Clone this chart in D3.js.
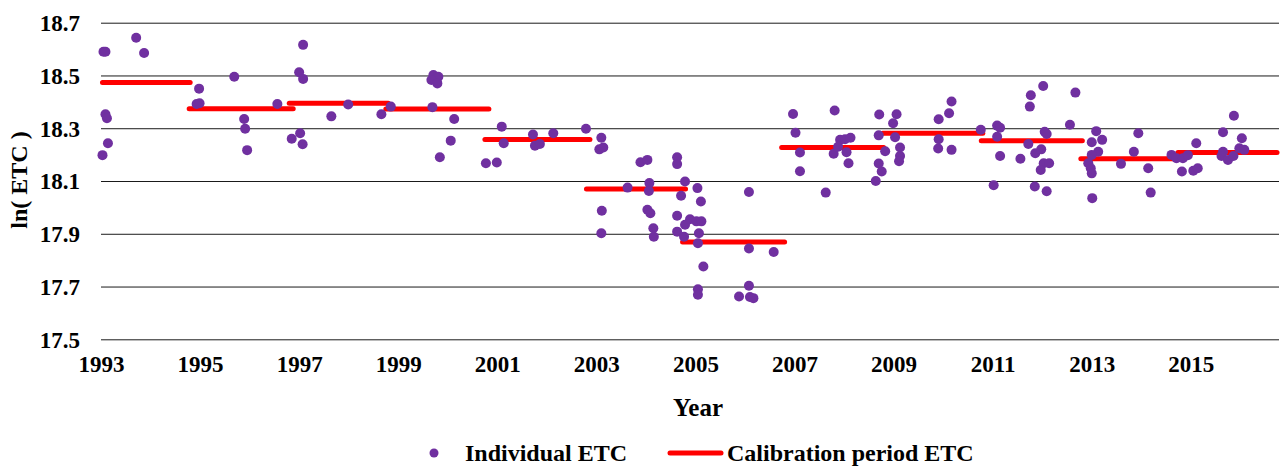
<!DOCTYPE html>
<html lang="en">
<head>
<meta charset="UTF-8">
<title>ln(ETC) by year</title>
<script src="https://d3js.org/d3.v7.min.js"></script>
<style>
  body { margin: 0; background: #fff; }
  svg text { font-family: "Liberation Serif", "Times New Roman", serif; font-weight: bold; fill: #000; }
  .axis path.domain { display: none; }
</style>
</head>
<body>
<div id="chart"></div>
<script>

// individual ETC estimates (decimal year, ln ETC)
var etcYear = [
  1993.05, 1993.09, 1993.71, 1993.87, 1993.09, 1993.12, 1993.14, 1993.03,
  1994.98, 1994.93, 1994.99, 1995.69, 1995.89, 1995.91, 1995.95, 1996.56,
  1996.85, 1997.02, 1997.07, 1997.00, 1997.08, 1997.08, 1997.65, 1997.99,
  1998.66, 1998.85, 1999.71, 1999.81, 1999.67, 1999.79, 1999.69, 2000.13,
  2000.06, 1999.84, 2000.77, 2000.99, 2001.09, 2001.13, 2001.72, 2001.76,
  2001.86, 2002.13, 2002.79, 2003.10, 2003.06, 2003.14, 2003.63, 2003.11,
  2003.10, 2003.89, 2004.03, 2004.07, 2004.06, 2004.63, 2004.63, 2004.79,
  2004.71, 2005.04, 2004.03, 2004.09, 2004.15, 2004.16, 2004.63, 2004.63,
  2004.79, 2004.89, 2004.77, 2005.11, 2005.02, 2005.12, 2005.07, 2005.05,
  2005.16, 2005.05, 2005.05, 2006.08, 2006.08, 2006.58, 2006.08, 2005.88,
  2006.10, 2006.17, 2006.97, 2007.02, 2007.11, 2007.11, 2007.63, 2007.81,
  2007.79, 2008.05, 2008.09, 2007.92, 2007.88, 2008.02, 2008.13, 2008.71,
  2008.70, 2008.83, 2008.70, 2008.76, 2008.64, 2009.06, 2008.99, 2009.03,
  2009.13, 2009.13, 2009.11, 2009.91, 2010.12, 2010.17, 2009.91, 2009.90,
  2010.17, 2010.76, 2011.09, 2011.15, 2011.09, 2011.15, 2011.02, 2011.56,
  2011.72, 2011.77, 2011.75, 2012.02, 2011.86, 2011.98, 2012.05, 2012.09,
  2012.03, 2012.14, 2011.97, 2011.85, 2012.09, 2012.56, 2012.67, 2013.09,
  2013.00, 2013.21, 2013.13, 2013.00, 2012.93, 2012.98, 2013.00, 2013.01,
  2013.59, 2013.85, 2013.94, 2014.14, 2014.19, 2014.61, 2014.71, 2014.84,
  2014.94, 2014.82, 2015.05, 2015.14, 2015.11, 2015.65, 2015.87, 2015.65,
  2015.62, 2015.75, 2015.86, 2016.03, 2015.98, 2016.08
];
var etcValue = [
  18.590, 18.590, 18.643, 18.585, 18.353, 18.338, 18.243, 18.198,
  18.450, 18.392, 18.395, 18.495, 18.335, 18.298, 18.217, 18.392,
  18.260, 18.281, 18.239, 18.512, 18.487, 18.616, 18.345, 18.390,
  18.353, 18.382, 18.502, 18.495, 18.483, 18.470, 18.380, 18.335,
  18.253, 18.190, 18.167, 18.170, 18.306, 18.243, 18.276, 18.234,
  18.240, 18.281, 18.298, 18.264, 18.220, 18.227, 18.075, 17.987,
  17.902, 18.171, 18.180, 18.092, 18.062, 18.190, 18.164, 18.098,
  18.044, 18.073, 17.991, 17.978, 17.921, 17.889, 17.968, 17.908,
  17.934, 17.955, 17.889, 18.022, 17.947, 17.947, 17.902, 17.864,
  17.776, 17.690, 17.669, 18.058, 17.844, 17.831, 17.703, 17.662,
  17.660, 17.656, 18.354, 18.283, 18.208, 18.137, 18.056, 18.367,
  18.203, 18.209, 18.167, 18.256, 18.230, 18.258, 18.264, 18.352,
  18.273, 18.213, 18.166, 18.136, 18.100, 18.353, 18.319, 18.266,
  18.227, 18.195, 18.175, 18.334, 18.357, 18.401, 18.258, 18.223,
  18.218, 18.294, 18.310, 18.302, 18.268, 18.195, 18.084, 18.184,
  18.240, 18.425, 18.382, 18.460, 18.205, 18.220, 18.287, 18.278,
  18.167, 18.167, 18.142, 18.079, 18.061, 18.313, 18.435, 18.289,
  18.247, 18.256, 18.211, 18.199, 18.167, 18.148, 18.129, 18.035,
  18.165, 18.211, 18.281, 18.148, 18.056, 18.199, 18.186, 18.186,
  18.198, 18.136, 18.139, 18.148, 18.243, 18.285, 18.347, 18.211,
  18.195, 18.180, 18.195, 18.262, 18.224, 18.218
];

// calibration periods
var periodStart = [1993.03, 1994.78, 1996.80, 1998.75, 2000.75, 2002.80, 2004.74, 2006.74, 2008.78, 2010.77, 2012.78, 2014.74];
var periodEnd   = [1994.80, 1996.88, 1998.80, 2000.83, 2002.87, 2004.80, 2006.80, 2008.80, 2010.80, 2012.81, 2014.74, 2016.74];
var periodValue = [18.473, 18.374, 18.395, 18.373, 18.257, 18.070, 17.869, 18.227, 18.281, 18.253, 18.184, 18.208];

var yearTicks = d3.range(1993, 2016, 2);
var valueTicks = [17.5, 17.7, 17.9, 18.1, 18.3, 18.5, 18.7];

var width = 1281, height = 466;
var plotLeft = 101, plotRight = 1279, plotTop = 22.7, plotBottom = 339.3;
var serif = '"Liberation Serif", "Times New Roman", serif';

var svg = d3.select("#chart").append("svg")
    .attr("width", width)
    .attr("height", height);

var x = d3.scaleLinear().domain([1993, 2016.78]).range([plotLeft, plotRight]);
var y = d3.scaleLinear().domain([17.5, 18.7]).range([plotBottom, plotTop]);

// horizontal gridlines + y labels
var yAxis = svg.append("g")
    .attr("class", "axis")
    .attr("transform", "translate(" + plotLeft + ",0)")
    .call(d3.axisLeft(y)
      .tickValues(valueTicks)
      .tickSize(-(plotRight - plotLeft))
      .tickPadding(21)
      .tickFormat(d3.format(".1f")));
yAxis.attr("font-family", serif).attr("font-size", 23);
yAxis.selectAll(".tick line").attr("stroke", "#1a1a1a").attr("stroke-width", 1);
yAxis.selectAll("text").attr("font-weight", "bold").attr("dy", "0.34em");

// x labels
var xAxis = svg.append("g")
    .attr("class", "axis")
    .attr("transform", "translate(0," + plotBottom + ")")
    .call(d3.axisBottom(x)
      .tickValues(yearTicks)
      .tickSize(0)
      .tickPadding(18)
      .tickFormat(d3.format("d")));
xAxis.attr("font-family", serif).attr("font-size", 23);
xAxis.selectAll("text").attr("font-weight", "bold").attr("dy", "0.66em");

// axis titles
svg.append("text")
    .attr("x", 698)
    .attr("y", 416)
    .attr("text-anchor", "middle")
    .style("font-size", "25px")
    .text("Year");

svg.append("text")
    .attr("transform", "translate(27,180) rotate(-90)")
    .attr("text-anchor", "middle")
    .style("font-size", "24px")
    .text("ln( ETC )");

// calibration period lines
svg.append("g").selectAll("line")
    .data(periodValue)
  .enter().append("line")
    .attr("x1", function(d, i) { return x(periodStart[i]); })
    .attr("x2", function(d, i) { return x(periodEnd[i]); })
    .attr("y1", function(d) { return y(d); })
    .attr("y2", function(d) { return y(d); })
    .attr("stroke", "#ff0000")
    .attr("stroke-width", 5)
    .attr("stroke-linecap", "round");

// individual points
svg.append("g").selectAll("circle")
    .data(etcValue)
  .enter().append("circle")
    .attr("cx", function(d, i) { return x(etcYear[i]); })
    .attr("cy", function(d) { return y(d); })
    .attr("r", 5)
    .attr("fill", "#7030a0");

// legend
var legend = svg.append("g").attr("transform", "translate(0,453)");
legend.append("circle")
    .attr("cx", 434).attr("cy", 0).attr("r", 4.5)
    .attr("fill", "#7030a0");
legend.append("text")
    .attr("x", 465).attr("y", 8)
    .style("font-size", "24px")
    .text("Individual ETC");
legend.append("line")
    .attr("x1", 670).attr("x2", 721)
    .attr("y1", 0).attr("y2", 0)
    .attr("stroke", "#ff0000").attr("stroke-width", 5)
    .attr("stroke-linecap", "round");
legend.append("text")
    .attr("x", 727).attr("y", 8)
    .style("font-size", "24px")
    .text("Calibration period ETC");

</script>
</body>
</html>
